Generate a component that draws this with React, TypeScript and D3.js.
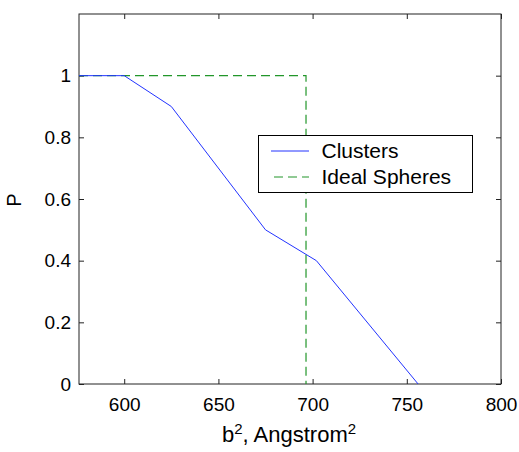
import React, { useRef, useEffect } from 'react'
import * as d3 from 'd3'

const clusterB2 = [576, 600, 625, 675, 702, 756]
const clusterP = [1, 1, 0.9, 0.5, 0.4, 0]
const sphereB2 = [576, 696.5, 696.5]
const sphereP = [1, 1, 0]
const xTicks = [600, 650, 700, 750, 800]
const yTicks = [0, 0.2, 0.4, 0.6, 0.8, 1]
const legendLabels = ['Clusters', 'Ideal Spheres']

const W = 519
const H = 452
const FONT = '"Liberation Sans", Arial, Helvetica, sans-serif'

export default function App() {
  const svgRef = useRef<SVGSVGElement>(null)

  useEffect(() => {
    const svg = d3.select(svgRef.current)
    svg.selectAll('*').remove()

    const x = d3.scaleLinear().domain([576, 800]).range([79, 501])
    const y = d3.scaleLinear().domain([0, 1.2]).range([384, 14])

    const axisColor = '#222'

    // bottom + top ticks
    const gx = svg.append('g').attr('transform', 'translate(0,384)')
      .call(d3.axisBottom(x).tickValues(xTicks).tickSize(-5).tickPadding(14).tickFormat(d3.format('d')))
    const gxt = svg.append('g').attr('transform', 'translate(0,14)')
      .call(d3.axisTop(x).tickValues(xTicks).tickSize(-5).tickFormat(() => ''))
    const gy = svg.append('g').attr('transform', 'translate(79,0)')
      .call(d3.axisLeft(y).tickValues(yTicks).tickSize(-5).tickPadding(8).tickFormat(d => String(d)))
    const gyr = svg.append('g').attr('transform', 'translate(501,0)')
      .call(d3.axisRight(y).tickValues(yTicks).tickSize(-5).tickFormat(() => ''))

    for (const g of [gx, gxt, gy, gyr]) {
      g.select('.domain').remove()
      g.selectAll('line').attr('stroke', axisColor)
      g.selectAll('text').attr('font-family', FONT).attr('font-size', 19).attr('fill', '#000')
    }

    // box
    svg.append('rect')
      .attr('x', 79).attr('y', 14).attr('width', 501 - 79).attr('height', 384 - 14)
      .attr('fill', 'none').attr('stroke', axisColor).attr('stroke-width', 1)

    const clusterPts = clusterB2.map((b, i) => [x(b), y(clusterP[i])] as [number, number])
    const spherePts = sphereB2.map((b, i) => [x(b), y(sphereP[i])] as [number, number])

    svg.append('path')
      .attr('d', d3.line()(spherePts))
      .attr('fill', 'none')
      .attr('stroke', '#22962a')
      .attr('stroke-width', 1.2)
      .attr('stroke-dasharray', '9,5')

    svg.append('path')
      .attr('d', d3.line()(clusterPts))
      .attr('fill', 'none')
      .attr('stroke', '#2233ff')
      .attr('stroke-width', 1)

    // legend
    const lg = svg.append('g')
    lg.append('rect')
      .attr('x', 258.5).attr('y', 135.5).attr('width', 214).attr('height', 57)
      .attr('fill', '#fff').attr('stroke', '#000').attr('stroke-width', 1)
    lg.append('line')
      .attr('x1', 271).attr('x2', 309).attr('y1', 151).attr('y2', 151)
      .attr('stroke', '#2233ff').attr('stroke-width', 1)
    lg.append('line')
      .attr('x1', 274).attr('x2', 309).attr('y1', 177).attr('y2', 177)
      .attr('stroke', '#22962a').attr('stroke-width', 1.2).attr('stroke-dasharray', '9,5')
    lg.selectAll('text.lab')
      .data(legendLabels)
      .join('text')
      .attr('class', 'lab')
      .attr('x', 321.5)
      .attr('y', (d, i) => (i === 0 ? 158 : 183.5))
      .attr('font-family', FONT)
      .attr('font-size', 21)
      .text(d => d)

    // axis labels
    svg.append('text')
      .attr('transform', 'translate(21,200) rotate(-90)')
      .attr('text-anchor', 'middle')
      .attr('font-family', FONT)
      .attr('font-size', 20)
      .text('P')

    const xl = svg.append('text')
      .attr('x', 289).attr('y', 442)
      .attr('text-anchor', 'middle')
      .attr('font-family', FONT)
      .attr('font-size', 22)
    xl.append('tspan').text('b')
    xl.append('tspan').attr('font-size', 15).attr('dy', -8).text('2')
    xl.append('tspan').attr('dy', 8).text(', Angstrom')
    xl.append('tspan').attr('font-size', 15).attr('dy', -8).text('2')
  }, [])

  return (
    <svg ref={svgRef} width={W} height={H} style={{ position: 'absolute', left: 0, top: 0, background: '#fff' }} />
  )
}
